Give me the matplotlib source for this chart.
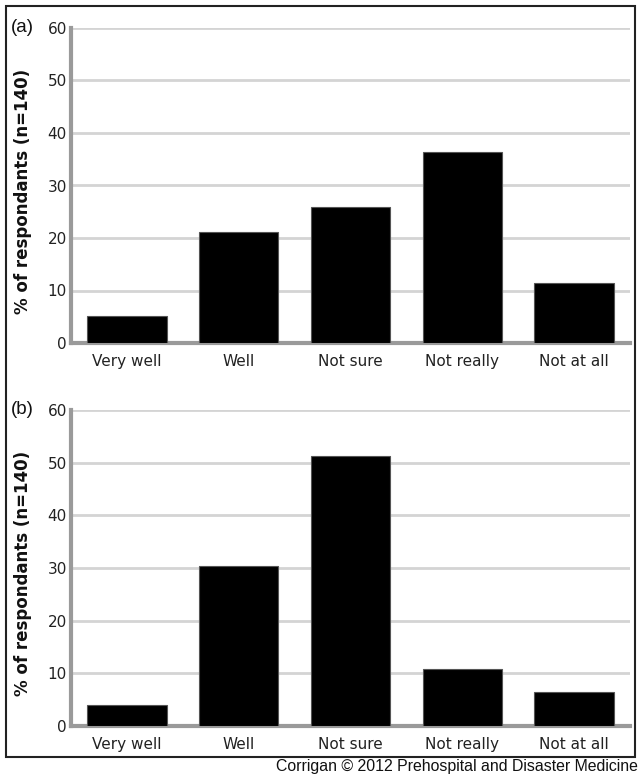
import matplotlib
matplotlib.use("Agg")
import matplotlib.pyplot as plt
from matplotlib.patches import Rectangle

categories = ["Very well", "Well", "Not sure", "Not really", "Not at all"]
values_a = [5.2, 21.1, 25.9, 36.3, 11.4]
values_b = [3.9, 30.4, 51.3, 10.9, 6.5]
yticks = [0, 10, 20, 30, 40, 50, 60]
ylabel = "% of respondants (n=140)"
caption = "Corrigan \u00a9 2012 Prehospital and Disaster Medicine"

W, H = 640, 778
fig = plt.figure(figsize=(W / 100, H / 100), dpi=100)

def fx(px):
    return px / W

def fy(py):
    return 1 - py / H

# (tag, values, top px, bottom px, y-label centre px)
panels = [
    ("(a)", values_a, 28, 343, 191),
    ("(b)", values_b, 410, 726, 573),
]

for tag, vals, top, bottom, lab_y in panels:
    ax = fig.add_axes([fx(71), fy(bottom), fx(630) - fx(71), (bottom - top) / H])
    x = range(len(categories))
    ax.bar(x, vals, width=0.71, color="black", edgecolor="#555555",
           linewidth=0.8, zorder=3)
    ax.set_xlim(-0.5, len(categories) - 0.5)
    ax.set_ylim(0, 60)
    ax.set_yticks(yticks)
    ax.set_xticks(list(x))
    ax.set_xticklabels(categories)
    ax.tick_params(axis="both", length=0, labelsize=11, colors="#222222")
    ax.tick_params(axis="y", pad=3)
    ax.tick_params(axis="x", pad=8)
    ax.yaxis.grid(True, color="#d4d4d4", linewidth=2, zorder=0)
    ax.set_axisbelow(True)
    for s in ("top", "right"):
        ax.spines[s].set_visible(False)
    ax.spines["left"].set_color("#9a9a9a")
    ax.spines["left"].set_linewidth(3)
    ax.spines["bottom"].set_color("#9a9a9a")
    ax.spines["bottom"].set_linewidth(3)
    fig.text(fx(23), fy(lab_y), ylabel, rotation=90, fontsize=12,
             fontweight="bold", color="#111111", ha="center", va="center")
    fig.text(fx(11), fy(top - 1), tag, fontsize=13.5, family="Liberation Sans",
             ha="left", va="center", color="#111111")

fig.patches.append(Rectangle((fx(6), fy(757)), fx(635) - fx(6), (757 - 6) / H,
                             transform=fig.transFigure, fill=False,
                             edgecolor="#222222", linewidth=1.5))

fig.text(fx(638), fy(767), caption, fontsize=11.4, family="Liberation Sans",
         ha="right", va="center", color="#111111")

fig.savefig("out.png", dpi=100)
